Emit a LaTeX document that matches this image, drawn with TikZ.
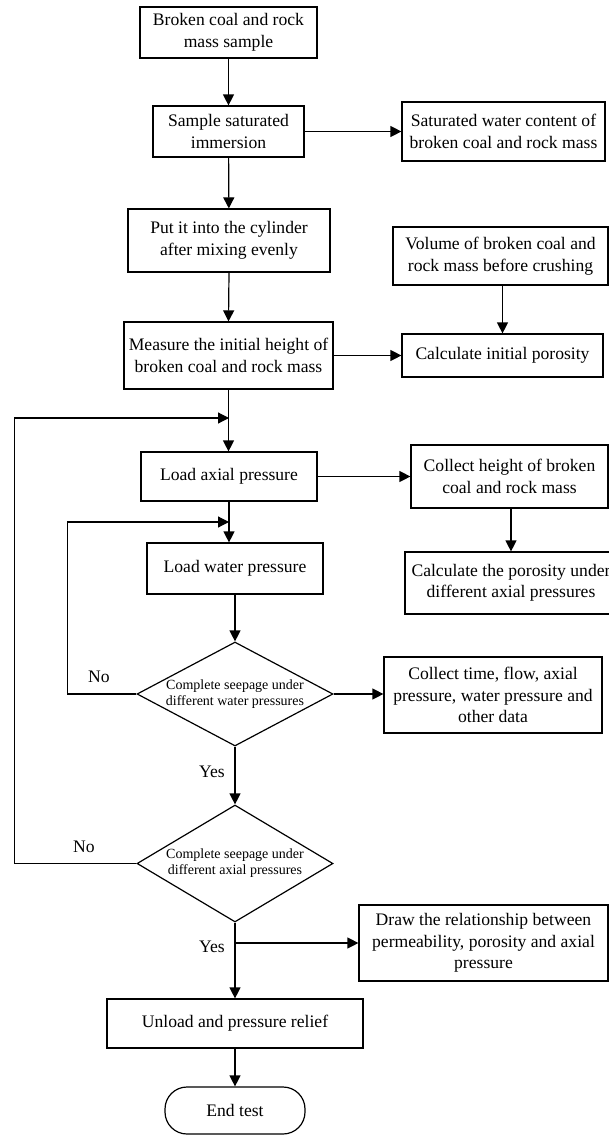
\documentclass[tikz,border=0pt]{standalone}
\usepackage{fontspec}
\setmainfont{Liberation Serif}
\usetikzlibrary{positioning, arrows.meta, calc, shapes.geometric}

\tikzset{
    stepbox/.style={draw, line width=1.2pt, align=center, inner sep=0pt,
                    font=\fontsize{17.6}{21.5}\selectfont},
    checkbox/.style={draw, diamond, aspect=1.9, line width=1.2pt, align=center,
                     inner sep=0pt, font=\fontsize{14}{16}\selectfont},
    endbox/.style={stepbox, rounded corners=22pt},
    flow/.style={line width=1.2pt, -{Triangle[length=11pt, width=11pt]}},
    branch/.style={inner sep=0pt, font=\fontsize{17.6}{21.5}\selectfont}
}

\begin{document}
\begin{tikzpicture}[x=1pt, y=-1pt]
    \useasboundingbox (0,0) rectangle (609,1135);

    % main column
    \node[stepbox, minimum width=177pt, minimum height=51pt] (sample) at (228.5,32.5)
        {Broken coal and rock\\mass sample};
    \node[stepbox, minimum width=151pt, minimum height=51pt] (immerse) at (228.5,131.5)
        {Sample saturated\\immersion};
    \node[stepbox, minimum width=202pt, minimum height=63pt] (fill) at (229,240.5)
        {Put it into the cylinder\\after mixing evenly};
    \node[stepbox, minimum width=209pt, minimum height=67pt] (height) at (228.5,355.5)
        {Measure the initial height of\\broken coal and rock mass};
    \node[stepbox, minimum width=176pt, minimum height=49pt] (axial) at (229,476.5)
        {Load axial pressure};
    \node[stepbox, minimum width=176pt, minimum height=51pt] (water) at (235,568.5)
        {Load water pressure};
    \node[checkbox, minimum width=196pt, minimum height=104pt] (checkwater) at (235,694)
        {Complete seepage under\\different water pressures};
    \node[checkbox, minimum width=196pt, minimum height=117pt] (checkaxial) at (235,863.5)
        {Complete seepage under\\different axial pressures};
    \node[stepbox, minimum width=256pt, minimum height=49pt] (unload) at (235,1023.5)
        {Unload and pressure relief};
    \node[endbox, minimum width=140pt, minimum height=47pt] (finish) at (235,1110.5)
        {End test};

    % right column
    \node[stepbox, minimum width=203pt, minimum height=59pt] (watercont) at (503.5,131.5)
        {Saturated water content of\\broken coal and rock mass};
    \node[stepbox, minimum width=215pt, minimum height=58pt] (volume) at (500.5,256)
        {Volume of broken coal and\\rock mass before crushing};
    \node[stepbox, minimum width=201pt, minimum height=43pt] (porosity) at (502.5,355.5)
        {Calculate initial porosity};
    \node[stepbox, minimum width=197pt, minimum height=63pt] (collheight) at (509.5,476.5)
        {Collect height of broken\\coal and rock mass};
    \node[stepbox, minimum width=212pt, minimum height=62pt] (poraxial) at (511,583)
        {Calculate the porosity under\\different axial pressures};
    \node[stepbox, minimum width=218pt, minimum height=76pt] (colldata) at (493,695)
        {Collect time, flow, axial\\pressure, water pressure and\\other data};
    \node[stepbox, minimum width=249pt, minimum height=76pt] (relation) at (483.5,943)
        {Draw the relationship between\\permeability, porosity and axial\\pressure};

    % branch labels
    \node[branch] (nowater) at (99,677) {No};
    \node[branch] (yeswater) at (212,772) {Yes};
    \node[branch] (noaxial) at (84,847) {No};
    \node[branch] (yesaxial) at (212,947) {Yes};

    \coordinate (outerjoin) at (229,418);
    \coordinate (innerjoin) at (229,522);

    % connectors
    \draw[flow] (sample) -- (immerse);
    \draw[flow] (immerse) -- (watercont);
    \draw[flow] (immerse) -- (fill);
    \draw[flow] (fill.south) -- (height.north);
    \draw[flow] (porosity.north |- volume.south) -- (porosity.north);
    \draw[flow] (height) -- (porosity);
    \draw[flow] (height.south) -- (height.south |- axial.north);
    \draw[flow] (axial) -- (collheight);
    \draw[flow] (poraxial.north |- collheight.south) -- (poraxial.north);
    \draw[flow] (axial.south) -- (axial.south |- water.north);
    \draw[flow] (water.south) -- (checkwater.north);
    \draw[flow] (checkwater.east) -- (checkwater.east -| colldata.west);
    \draw[flow] (checkwater.south) -- (checkaxial.north);
    \draw[flow] (checkaxial.south) -- (unload.north);
    \draw[flow] (checkaxial.south |- relation.west) -- (relation.west);
    \draw[flow] (unload) -- (finish);

    % loops back
    \draw[flow] (checkwater.west) -- ++(-69,0) |- (innerjoin);
    \draw[flow] (checkaxial.west) -- ++(-122,0) |- (outerjoin);
\end{tikzpicture}
\end{document}
